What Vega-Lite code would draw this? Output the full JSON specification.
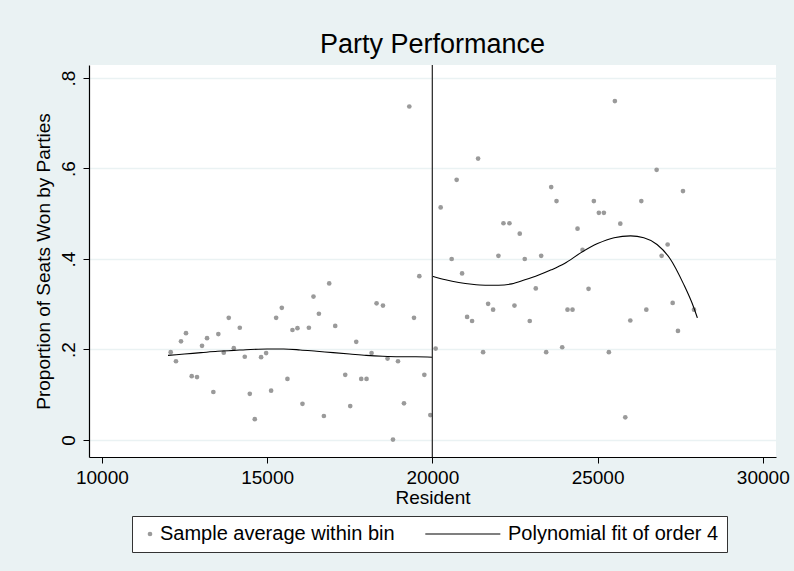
{
  "$schema": "https://vega.github.io/schema/vega-lite/v6.json",
  "width": 687,
  "height": 392,
  "autosize": {"type": "none"},
  "padding": {"left": 89, "top": 65, "right": 18, "bottom": 114},
  "background": "#EAF2F3",
  "config": {
    "view": {"fill": "white", "stroke": null},
    "font": "Liberation Sans",
    "axis": {"labelColor": "black", "titleColor": "black", "titleFontWeight": "normal", "labelFontSize": 19, "titleFontSize": 19, "domainColor": "black", "tickColor": "black", "tickSize": 6, "domainWidth": 1.2}
  },
  "title": {"text": "Party Performance", "fontSize": 27, "fontWeight": "normal", "color": "black", "baseline": "alphabetic", "offset": 11, "dy": 27, "anchor": "middle", "font": "Liberation Sans"},
  "datasets": {
    "bins": [
      {"resident": 12082, "share": 0.194, "series": "Sample average within bin"},
      {"resident": 12242, "share": 0.174, "series": "Sample average within bin"},
      {"resident": 12394, "share": 0.218, "series": "Sample average within bin"},
      {"resident": 12545, "share": 0.236, "series": "Sample average within bin"},
      {"resident": 12718, "share": 0.141, "series": "Sample average within bin"},
      {"resident": 12879, "share": 0.139, "series": "Sample average within bin"},
      {"resident": 13030, "share": 0.208, "series": "Sample average within bin"},
      {"resident": 13182, "share": 0.225, "series": "Sample average within bin"},
      {"resident": 13373, "share": 0.106, "series": "Sample average within bin"},
      {"resident": 13524, "share": 0.234, "series": "Sample average within bin"},
      {"resident": 13688, "share": 0.193, "series": "Sample average within bin"},
      {"resident": 13839, "share": 0.270, "series": "Sample average within bin"},
      {"resident": 13991, "share": 0.203, "series": "Sample average within bin"},
      {"resident": 14173, "share": 0.248, "series": "Sample average within bin"},
      {"resident": 14324, "share": 0.184, "series": "Sample average within bin"},
      {"resident": 14476, "share": 0.102, "series": "Sample average within bin"},
      {"resident": 14627, "share": 0.046, "series": "Sample average within bin"},
      {"resident": 14818, "share": 0.183, "series": "Sample average within bin"},
      {"resident": 14970, "share": 0.192, "series": "Sample average within bin"},
      {"resident": 15121, "share": 0.109, "series": "Sample average within bin"},
      {"resident": 15273, "share": 0.270, "series": "Sample average within bin"},
      {"resident": 15445, "share": 0.292, "series": "Sample average within bin"},
      {"resident": 15615, "share": 0.135, "series": "Sample average within bin"},
      {"resident": 15767, "share": 0.243, "series": "Sample average within bin"},
      {"resident": 15918, "share": 0.247, "series": "Sample average within bin"},
      {"resident": 16070, "share": 0.080, "series": "Sample average within bin"},
      {"resident": 16264, "share": 0.248, "series": "Sample average within bin"},
      {"resident": 16403, "share": 0.317, "series": "Sample average within bin"},
      {"resident": 16567, "share": 0.279, "series": "Sample average within bin"},
      {"resident": 16718, "share": 0.053, "series": "Sample average within bin"},
      {"resident": 16879, "share": 0.346, "series": "Sample average within bin"},
      {"resident": 17061, "share": 0.252, "series": "Sample average within bin"},
      {"resident": 17364, "share": 0.144, "series": "Sample average within bin"},
      {"resident": 17515, "share": 0.075, "series": "Sample average within bin"},
      {"resident": 17697, "share": 0.217, "series": "Sample average within bin"},
      {"resident": 17848, "share": 0.135, "series": "Sample average within bin"},
      {"resident": 18009, "share": 0.135, "series": "Sample average within bin"},
      {"resident": 18161, "share": 0.192, "series": "Sample average within bin"},
      {"resident": 18312, "share": 0.302, "series": "Sample average within bin"},
      {"resident": 18506, "share": 0.297, "series": "Sample average within bin"},
      {"resident": 18645, "share": 0.180, "series": "Sample average within bin"},
      {"resident": 18809, "share": 0.001, "series": "Sample average within bin"},
      {"resident": 18961, "share": 0.174, "series": "Sample average within bin"},
      {"resident": 19142, "share": 0.081, "series": "Sample average within bin"},
      {"resident": 19303, "share": 0.737, "series": "Sample average within bin"},
      {"resident": 19445, "share": 0.270, "series": "Sample average within bin"},
      {"resident": 19606, "share": 0.362, "series": "Sample average within bin"},
      {"resident": 19758, "share": 0.144, "series": "Sample average within bin"},
      {"resident": 19939, "share": 0.055, "series": "Sample average within bin"},
      {"resident": 20100, "share": 0.202, "series": "Sample average within bin"},
      {"resident": 20252, "share": 0.514, "series": "Sample average within bin"},
      {"resident": 20585, "share": 0.400, "series": "Sample average within bin"},
      {"resident": 20736, "share": 0.575, "series": "Sample average within bin"},
      {"resident": 20900, "share": 0.368, "series": "Sample average within bin"},
      {"resident": 21052, "share": 0.272, "series": "Sample average within bin"},
      {"resident": 21203, "share": 0.263, "series": "Sample average within bin"},
      {"resident": 21385, "share": 0.622, "series": "Sample average within bin"},
      {"resident": 21536, "share": 0.194, "series": "Sample average within bin"},
      {"resident": 21688, "share": 0.301, "series": "Sample average within bin"},
      {"resident": 21839, "share": 0.288, "series": "Sample average within bin"},
      {"resident": 22000, "share": 0.407, "series": "Sample average within bin"},
      {"resident": 22152, "share": 0.479, "series": "Sample average within bin"},
      {"resident": 22333, "share": 0.479, "series": "Sample average within bin"},
      {"resident": 22485, "share": 0.297, "series": "Sample average within bin"},
      {"resident": 22645, "share": 0.456, "series": "Sample average within bin"},
      {"resident": 22797, "share": 0.400, "series": "Sample average within bin"},
      {"resident": 22948, "share": 0.263, "series": "Sample average within bin"},
      {"resident": 23130, "share": 0.335, "series": "Sample average within bin"},
      {"resident": 23294, "share": 0.407, "series": "Sample average within bin"},
      {"resident": 23445, "share": 0.194, "series": "Sample average within bin"},
      {"resident": 23597, "share": 0.559, "series": "Sample average within bin"},
      {"resident": 23758, "share": 0.528, "series": "Sample average within bin"},
      {"resident": 23930, "share": 0.205, "series": "Sample average within bin"},
      {"resident": 24091, "share": 0.288, "series": "Sample average within bin"},
      {"resident": 24242, "share": 0.288, "series": "Sample average within bin"},
      {"resident": 24394, "share": 0.467, "series": "Sample average within bin"},
      {"resident": 24545, "share": 0.420, "series": "Sample average within bin"},
      {"resident": 24727, "share": 0.334, "series": "Sample average within bin"},
      {"resident": 24888, "share": 0.528, "series": "Sample average within bin"},
      {"resident": 25039, "share": 0.502, "series": "Sample average within bin"},
      {"resident": 25191, "share": 0.502, "series": "Sample average within bin"},
      {"resident": 25342, "share": 0.194, "series": "Sample average within bin"},
      {"resident": 25524, "share": 0.749, "series": "Sample average within bin"},
      {"resident": 25688, "share": 0.478, "series": "Sample average within bin"},
      {"resident": 25839, "share": 0.050, "series": "Sample average within bin"},
      {"resident": 25991, "share": 0.264, "series": "Sample average within bin"},
      {"resident": 26324, "share": 0.528, "series": "Sample average within bin"},
      {"resident": 26476, "share": 0.288, "series": "Sample average within bin"},
      {"resident": 26788, "share": 0.597, "series": "Sample average within bin"},
      {"resident": 26939, "share": 0.407, "series": "Sample average within bin"},
      {"resident": 27121, "share": 0.432, "series": "Sample average within bin"},
      {"resident": 27273, "share": 0.303, "series": "Sample average within bin"},
      {"resident": 27433, "share": 0.241, "series": "Sample average within bin"},
      {"resident": 27585, "share": 0.550, "series": "Sample average within bin"},
      {"resident": 27918, "share": 0.288, "series": "Sample average within bin"}
    ],
    "fit": [
      {"resident": 12000, "share": 0.187, "side": "left"},
      {"resident": 12500, "share": 0.190, "side": "left"},
      {"resident": 13000, "share": 0.193, "side": "left"},
      {"resident": 13500, "share": 0.196, "side": "left"},
      {"resident": 14000, "share": 0.198, "side": "left"},
      {"resident": 14500, "share": 0.200, "side": "left"},
      {"resident": 15000, "share": 0.201, "side": "left"},
      {"resident": 15500, "share": 0.201, "side": "left"},
      {"resident": 16000, "share": 0.199, "side": "left"},
      {"resident": 16500, "share": 0.196, "side": "left"},
      {"resident": 17000, "share": 0.193, "side": "left"},
      {"resident": 17500, "share": 0.190, "side": "left"},
      {"resident": 18000, "share": 0.187, "side": "left"},
      {"resident": 18500, "share": 0.185, "side": "left"},
      {"resident": 19000, "share": 0.184, "side": "left"},
      {"resident": 19500, "share": 0.184, "side": "left"},
      {"resident": 20000, "share": 0.183, "side": "left"},
      {"resident": 20000, "share": 0.362, "side": "right"},
      {"resident": 20400, "share": 0.354, "side": "right"},
      {"resident": 20800, "share": 0.348, "side": "right"},
      {"resident": 21200, "share": 0.344, "side": "right"},
      {"resident": 21600, "share": 0.342, "side": "right"},
      {"resident": 22000, "share": 0.342, "side": "right"},
      {"resident": 22400, "share": 0.345, "side": "right"},
      {"resident": 22800, "share": 0.354, "side": "right"},
      {"resident": 23200, "share": 0.364, "side": "right"},
      {"resident": 23600, "share": 0.376, "side": "right"},
      {"resident": 24000, "share": 0.390, "side": "right"},
      {"resident": 24500, "share": 0.414, "side": "right"},
      {"resident": 25000, "share": 0.434, "side": "right"},
      {"resident": 25500, "share": 0.447, "side": "right"},
      {"resident": 26000, "share": 0.451, "side": "right"},
      {"resident": 26400, "share": 0.447, "side": "right"},
      {"resident": 26800, "share": 0.432, "side": "right"},
      {"resident": 27200, "share": 0.400, "side": "right"},
      {"resident": 27600, "share": 0.345, "side": "right"},
      {"resident": 27900, "share": 0.295, "side": "right"},
      {"resident": 28020, "share": 0.270, "side": "right"}
    ],
    "cutoff": [{"resident": 20000}]
  },
  "layer": [
    {
      "data": {"name": "bins"},
      "mark": {"type": "point", "filled": true, "size": 22, "opacity": 1},
      "encoding": {
        "x": {"field": "resident", "type": "quantitative", "scale": {"domain": [9610, 30400], "nice": false, "zero": false},
              "axis": {"title": "Resident", "values": [10000, 15000, 20000, 25000, 30000], "format": "d", "grid": false, "labelPadding": 5, "titlePadding": 1}},
        "y": {"field": "share", "type": "quantitative", "scale": {"domain": [-0.0376, 0.8287], "nice": false, "zero": false},
              "axis": {"title": "Proportion of Seats Won by Parties", "values": [0, 0.2, 0.4, 0.6, 0.8],
                       "labelExpr": "datum.value == 0 ? '0' : replace(format(datum.value, '.1f'), '0.', '.')",
                       "labelAngle": -90, "labelAlign": "center", "labelBaseline": "alphabetic", "labelPadding": 9,
                       "grid": true, "gridColor": "#EAF2F3", "gridWidth": 1.5, "titlePadding": 6}},
        "color": {"field": "series", "type": "nominal",
                  "scale": {"domain": ["Sample average within bin", "Polynomial fit of order 4"], "range": ["#9a9a9a", "black"]},
                  "legend": {"orient": "none", "legendX": 43, "legendY": 451, "direction": "horizontal", "columns": 2, "title": null,
                             "labelFontSize": 20, "labelColor": "black", "fillColor": "white", "strokeColor": "#333333",
                             "padding": 8, "symbolSize": 22, "labelOffset": 0, "columnPadding": 30, "labelLimit": 400,
                             "symbolStrokeWidth": 0, "symbolOpacity": 1}},
        "shape": {"field": "series", "type": "nominal",
                  "scale": {"domain": ["Sample average within bin", "Polynomial fit of order 4"], "range": ["circle", "M-31,-0.25H1V0.25H-31Z"]}}
      }
    },
    {
      "data": {"name": "fit"},
      "mark": {"type": "line", "color": "black", "strokeWidth": 1.1, "interpolate": "monotone"},
      "encoding": {
        "x": {"field": "resident", "type": "quantitative"},
        "y": {"field": "share", "type": "quantitative"},
        "detail": {"field": "side", "type": "nominal"}
      }
    },
    {
      "data": {"name": "cutoff"},
      "mark": {"type": "rule", "color": "#333333", "strokeWidth": 1.3},
      "encoding": {"x": {"field": "resident", "type": "quantitative"}}
    }
  ]
}
